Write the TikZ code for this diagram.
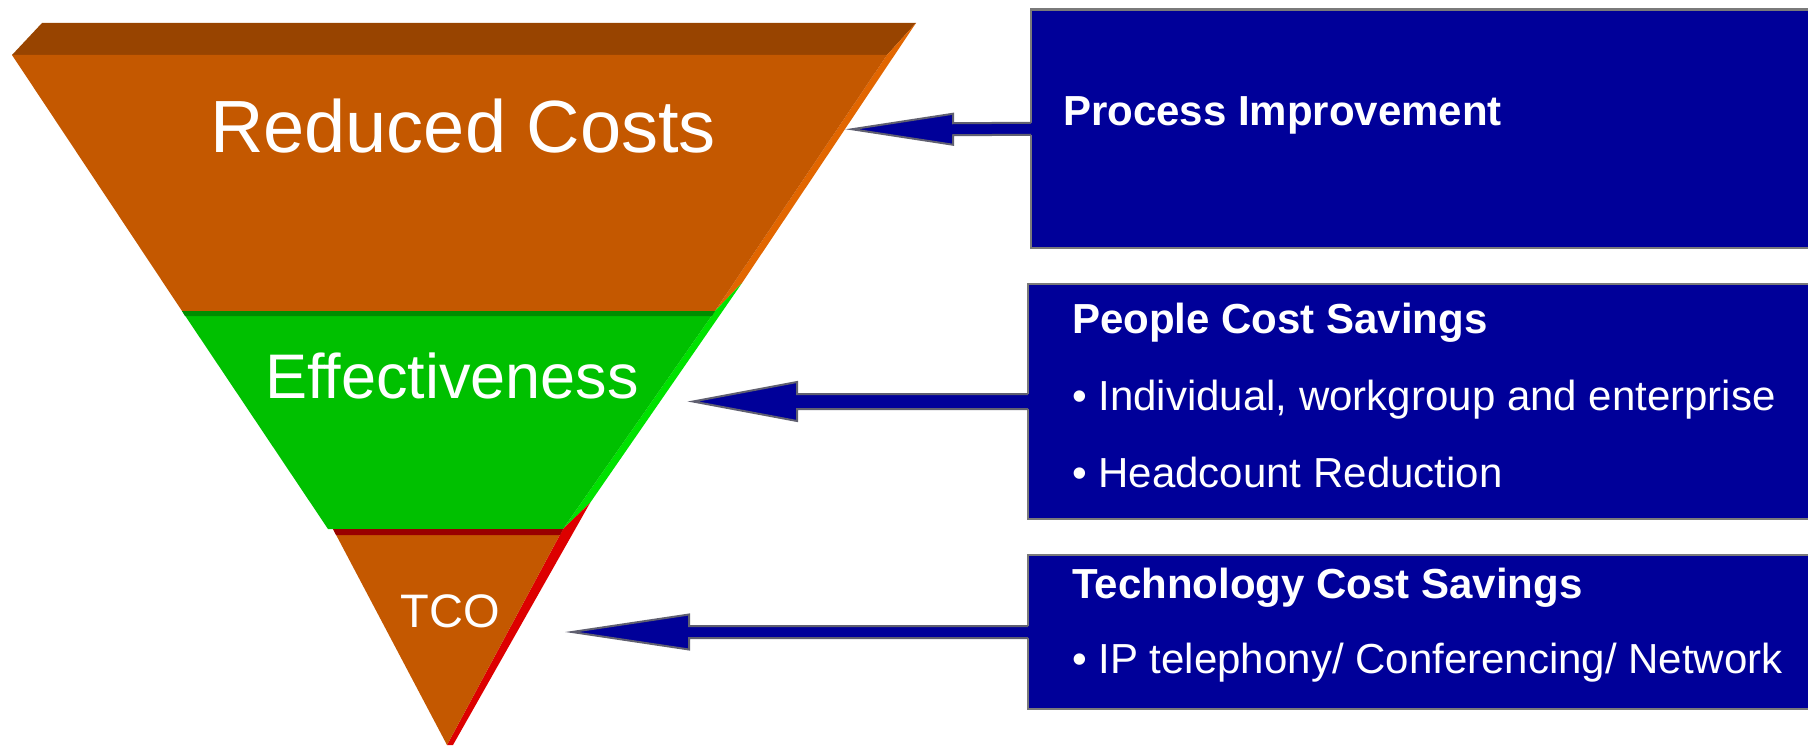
\documentclass[tikz,border=0pt]{standalone}
\usepackage{fontspec}
\setmainfont{Liberation Sans}
\usetikzlibrary{calc}
\definecolor{ofront}{RGB}{196,88,0}
\definecolor{otop}{RGB}{152,68,0}
\definecolor{oside}{RGB}{226,102,0}
\definecolor{gfront}{RGB}{0,192,0}
\definecolor{gtop}{RGB}{0,140,0}
\definecolor{gside}{RGB}{0,226,0}
\definecolor{rtop}{RGB}{153,0,0}
\definecolor{rside}{RGB}{221,0,0}
\definecolor{navy}{RGB}{0,0,153}
\definecolor{boxline}{RGB}{122,122,122}
\definecolor{arrline}{RGB}{96,96,112}
\newcommand\myarrow[5]{%
  \fill[navy] ($(#1)+(3,-#3)$) -- ($(#2)+(#5,-#3)$) -- ($(#2)+(#5,-#4)$) -- (#2)
    -- ($(#2)+(#5,#4)$) -- ($(#2)+(#5,#3)$) -- ($(#1)+(3,#3)$) -- cycle;
  \draw[arrowline] ($(#1)+(0,-#3)$) -- ($(#2)+(#5,-#3)$) -- ($(#2)+(#5,-#4)$) -- (#2)
    -- ($(#2)+(#5,#4)$) -- ($(#2)+(#5,#3)$) -- ($(#1)+(0,#3)$);
}
\begin{document}
\begin{tikzpicture}[x=1pt,y=-1pt,
  lbl/.style={text=white,inner sep=0pt,anchor=base},
  infobox/.style={draw=boxline,line width=2.5pt,fill=navy,inner sep=0pt,outer sep=0pt,anchor=north west,minimum width=900pt},
  btxt/.style={text=white,inner sep=0pt,anchor=base west,font=\fontsize{42}{42}\selectfont},
  btitle/.style={btxt,font=\fontsize{42}{42}\selectfont\bfseries},
  arrowline/.style={draw=arrline,line width=2pt,line join=miter}]
\useasboundingbox (0,0) rectangle (1808,746);
\clip (0,0) rectangle (1808,746);
% layer 1: Reduced Costs
\fill[otop] (42,23) -- (916,23) -- (887,55) -- (12,55) -- cycle;
\fill[oside] (887,55) -- (916,23) -- (742,283) -- (715,311) -- cycle;
\fill[ofront] (12,55) -- (887,55) -- (715,311) -- (182,311) -- cycle;
% layer 2: Effectiveness
\fill[gside] (715,311) -- (742,283) -- (590,503) -- (563,529) -- cycle;
\fill[gfront] (182,311) -- (715,311) -- (563,529) -- (328,529) -- cycle;
\fill[gtop] (182,311) -- (715,311) -- (712,316) -- (185,316) -- cycle;
% layer 3: TCO
\fill[rside] (563,529) -- (590,503) -- (453,745) -- (447,745) -- cycle;
\fill[ofront] (333,529) -- (563,529) -- (447,745) -- cycle;
\fill[rtop] (333,529) -- (563,529) -- (560,535) -- (336,535) -- cycle;
% labels
\node[lbl,font=\fontsize{74}{74}\selectfont] (rc) at (463,153) {Reduced Costs};
\node[lbl,font=\fontsize{63}{63}\selectfont] (eff) at (452,398) {Effectiveness};
\node[lbl,font=\fontsize{47}{47}\selectfont] (tco) at (450,627) {TCO};
% boxes
\node[infobox,minimum height=238.5pt] (b1) at (1031,9.5) {};
\node[infobox,minimum height=235pt] (b2) at (1028,284) {};
\node[infobox,minimum height=154pt] (b3) at (1028,555) {};
% box texts
\node[btitle] (t1) at (1063,126) {Process Improvement};
\node[btitle] (t2) at (1072,333) {People Cost Savings};
\node[btxt] (t3) at (1072,410) {• Individual, workgroup and enterprise};
\node[btxt] (t4) at (1072,487) {• Headcount Reduction};
\node[btitle] (t5) at (1072,598) {Technology Cost Savings};
\node[btxt] (t6) at (1072,673) {• IP telephony/ Conferencing/ Network};
% arrow tips
\coordinate (tip1) at (852,129.25);
\coordinate (tip2) at (693,401.5);
\coordinate (tip3) at (572,632);
\myarrow{b1.west}{tip1}{6}{15.5}{101}
\myarrow{b2.west}{tip2}{7.5}{19.5}{104}
\myarrow{b3.west}{tip3}{6}{17.5}{117}
\end{tikzpicture}
\end{document}
